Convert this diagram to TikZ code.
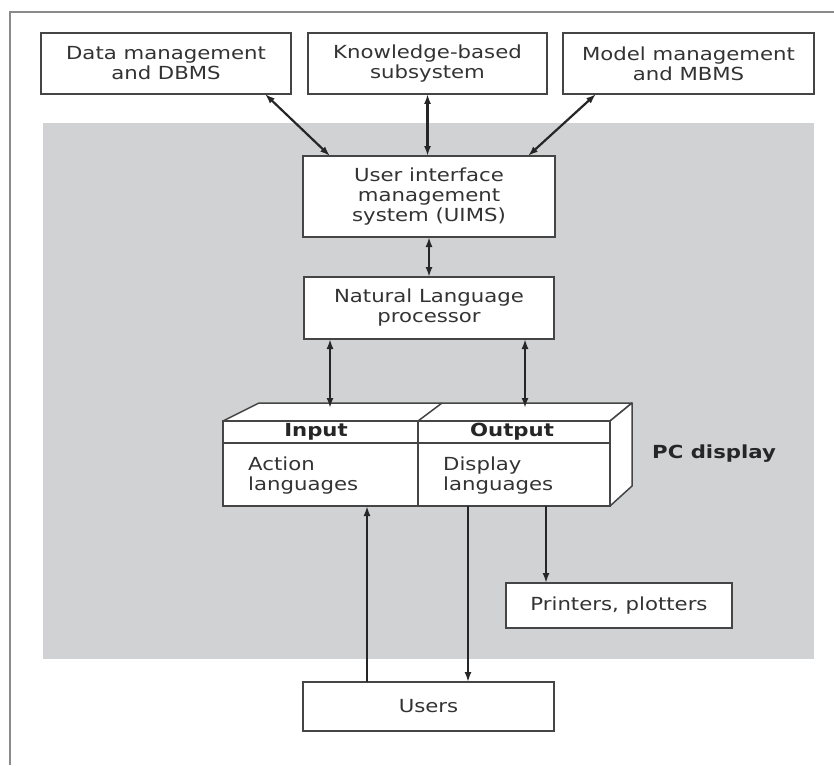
\documentclass[tikz,border=0pt]{standalone}
\usepackage{fontspec}
\setmainfont{DejaVu Sans}[FakeStretch=1.18]
\usetikzlibrary{arrows.meta}
\definecolor{panel}{HTML}{D1D2D4}
\definecolor{edge}{HTML}{454545}
\definecolor{ink}{HTML}{333333}
\definecolor{framec}{HTML}{8A8A8A}
\begin{document}
\begin{tikzpicture}[x=1pt,y=-1pt,
  box/.style={draw=edge, line width=1.5pt, fill=white, inner sep=0pt, outer sep=0pt,
    align=center, text=ink, font=\fontsize{18}{20}\selectfont},
  dbl/.style={{Latex[length=10pt,width=7pt]}-{Latex[length=10pt,width=7pt]}, line width=2.2pt, draw=black!85},
  one/.style={-{Latex[length=10pt,width=7pt]}, line width=2.6pt, draw=black!85},
  lbl/.style={text=ink, font=\fontsize{18}{20}\selectfont, inner sep=0pt, align=left},
  hdr/.style={text=black!85, font=\fontsize{18}{20}\selectfont\bfseries, inner sep=0pt}
]
\useasboundingbox (0,0) rectangle (834,765);
\fill[white] (0,0) rectangle (834,765);
\draw[framec, line width=1.5pt] (10,765) -- (10,12) -- (834,12);
\fill[panel] (43,123) rectangle (814,659);

% top boxes
\node[box, minimum width=250pt, minimum height=61pt] (data) at (166,63.5) {Data management\\and DBMS};
\node[box, minimum width=239pt, minimum height=61pt] (know) at (427.5,63.5) {Knowledge-based\\subsystem};
\node[box, minimum width=251pt, minimum height=61pt] (model) at (688.5,63.5) {Model management\\and MBMS};

% central boxes
\node[box, minimum width=252pt, minimum height=81pt] (uims) at (429,196.5) {User interface\\management\\system (UIMS)};
\node[box, minimum width=250pt, minimum height=62pt] (nlp) at (429,308) {Natural Language\\processor};

% 3D PC display box
\filldraw[fill=white, draw=edge, line width=1.5pt, line join=round]
  (223,421) -- (259,403) -- (632,403) -- (610,421) -- cycle;
\filldraw[fill=white, draw=edge, line width=1.5pt, line join=round]
  (610,421) -- (632,403) -- (632,486) -- (610,506) -- cycle;
\draw[edge, line width=1.5pt] (418,421) -- (442,403);
\node[draw=edge, line width=1.5pt, fill=white, inner sep=0pt, outer sep=0pt,
  minimum width=195pt, minimum height=85pt] (inhalf) at (320.5,463.5) {};
\node[draw=edge, line width=1.5pt, fill=white, inner sep=0pt, outer sep=0pt,
  minimum width=192pt, minimum height=85pt] (outhalf) at (514,463.5) {};
\draw[edge, line width=1.5pt] (223,443) -- (610,443);
\node[hdr] (inlbl) at (316,432) {Input};
\node[hdr] (outlbl) at (512,432) {Output};
\node[lbl, anchor=west] (action) at (248,475.5) {Action\\languages};
\node[lbl, anchor=west] (displ) at (443,475.5) {Display\\languages};
\node[hdr, anchor=west] (pcd) at (652,454) {PC display};

\coordinate (inTop) at (330,408);
\coordinate (outTop) at (525,408);

% bottom boxes
\node[box, minimum width=226pt, minimum height=45pt] (printers) at (619,605.5) {Printers, plotters};
\node[box, minimum width=251pt, minimum height=49pt] (users) at (428.5,706.5) {Users};

% connectors
\draw[dbl] ([xshift=99pt]data.south) -- ([xshift=-99pt]uims.north);
\draw[dbl] (know.south) -- (know.south |- uims.north);
\draw[dbl] ([xshift=-92.5pt]model.south) -- ([xshift=99pt]uims.north);
\draw[dbl] (uims.south) -- (nlp.north);
\draw[dbl] (nlp.south -| inTop) -- (inTop);
\draw[dbl] (nlp.south -| outTop) -- (outTop);
\draw[one] ([xshift=-61.5pt]users.north) -- ([xshift=-61.5pt]users.north |- inhalf.south);
\draw[one] ([xshift=-46pt]outhalf.south) -- ([xshift=-46pt]outhalf.south |- users.north);
\draw[one] ([xshift=-73pt]printers.north |- outhalf.south) -- ([xshift=-73pt]printers.north);
\end{tikzpicture}
\end{document}
